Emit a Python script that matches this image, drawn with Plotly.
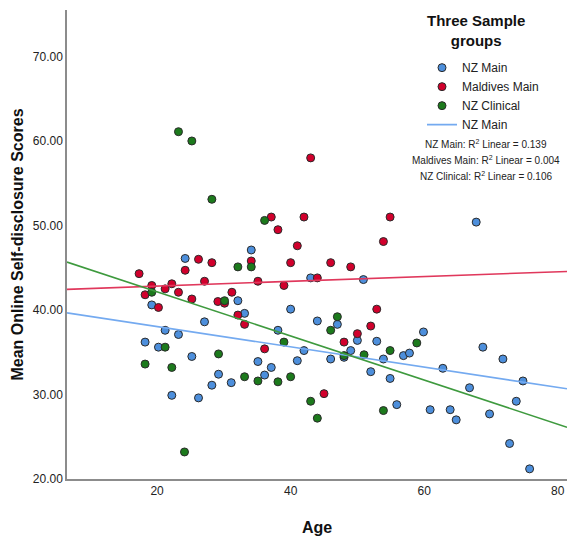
import numpy as np
import plotly.graph_objects as go

# ---- data ----
nz_main_age = [24.2, 32.1, 19.2, 27.1, 21.2, 23.2, 18.2, 20.2, 25.2, 29.2, 28.2, 31.1, 22.2, 26.2,
               34.1, 43.0, 50.9, 33.1, 40.0, 47.0, 44.0, 38.1, 50.0, 52.9, 42.0, 49.0, 48.0, 56.9,
               57.8, 46.0, 53.9, 41.0, 35.1, 37.1, 36.1, 52.0, 54.9, 55.9, 67.8, 59.9, 68.8, 71.8,
               62.8, 74.8, 66.8, 73.8, 60.9, 63.9, 64.8, 69.8, 72.8, 75.8]
nz_main_score = [46.1, 41.1, 40.6, 38.6, 37.6, 37.1, 36.2, 35.6, 34.5, 32.4, 31.1, 31.4, 29.9, 29.6,
                 47.1, 43.8, 43.6, 39.6, 40.1, 38.3, 38.7, 37.6, 36.4, 36.3, 35.2, 35.2, 34.4, 34.6,
                 34.9, 34.2, 34.2, 34.0, 33.9, 33.2, 32.3, 32.7, 31.9, 28.8, 50.4, 37.4, 35.6, 34.2,
                 33.1, 31.6, 30.8, 29.2, 28.2, 28.2, 27.0, 27.7, 24.2, 21.2]

maldives_age = [43.0, 37.1, 42.0, 54.9, 38.1, 53.9, 41.0, 34.1, 40.0, 46.0, 49.0, 44.0, 35.1, 39.0,
                26.2, 28.2, 24.2, 17.3, 27.1, 22.2, 19.2, 21.2, 23.2, 18.2, 31.2, 25.2, 29.1, 30.1,
                32.1, 20.2, 33.1, 52.9, 52.0, 50.0, 48.0, 36.1, 45.0]
maldives_score = [58.0, 51.0, 51.0, 51.0, 49.5, 48.1, 47.6, 45.8, 45.6, 45.6, 45.1, 43.8, 43.4, 42.9,
                  46.0, 45.6, 44.7, 44.3, 43.4, 43.1, 42.9, 42.5, 42.1, 41.8, 42.1, 41.3, 41.0, 40.8,
                  39.4, 40.3, 38.3, 40.1, 38.1, 37.2, 36.2, 35.4, 30.1]

nz_clin_age = [23.2, 25.2, 28.2, 36.1, 32.1, 34.1, 19.2, 30.1, 21.2, 29.2, 18.2, 22.2, 24.1, 47.0,
               46.0, 39.0, 48.0, 51.0, 54.9, 58.9, 33.1, 35.1, 38.1, 40.0, 43.0, 44.0, 53.9]
nz_clin_score = [61.1, 60.0, 53.1, 50.6, 45.1, 45.1, 42.1, 41.1, 35.6, 34.8, 33.6, 33.2, 23.2, 39.2,
                 37.6, 36.2, 34.6, 34.7, 35.2, 36.1, 32.1, 31.6, 31.5, 32.1, 29.2, 27.2, 28.1]

group_names = ["NZ Main", "Maldives Main", "NZ Clinical"]
fit_intercepts = [40.44, 42.26, 47.37]
fit_slopes = [-0.120, 0.0283, -0.261]
r2_values = [0.139, 0.004, 0.106]

x_range = [6.5, 81.4]
y_range = [20, 75.5]
x_ticks = [20, 40, 60, 80]
y_ticks = [20, 30, 40, 50, 60, 70]

marker_colors = ["#4d8fdc", "#d1002c", "#1c7a1c"]
line_colors = ["#74aaf0", "#e0385c", "#3e9a3e"]

fig = go.Figure()
series = [(nz_main_age, nz_main_score), (maldives_age, maldives_score), (nz_clin_age, nz_clin_score)]
for i, (ax, sc) in enumerate(series):
    fig.add_trace(go.Scatter(
        x=ax, y=sc, mode="markers", name=group_names[i],
        marker=dict(size=8, color=marker_colors[i], line=dict(color="#2a2a2a", width=1)),
        showlegend=True))

xs = np.array(x_range)
for i in range(3):
    fig.add_trace(go.Scatter(
        x=xs, y=fit_intercepts[i] + fit_slopes[i] * xs, mode="lines",
        name=group_names[i], line=dict(color=line_colors[i], width=1.6),
        showlegend=(i == 0)))

font_family = "Liberation Sans, Arial, sans-serif"

annotations = [dict(
    text="<b>Three Sample<br>groups</b>", xref="paper", yref="paper",
    x=0.818, y=0.957, xanchor="center", yanchor="middle", showarrow=False,
    font=dict(family=font_family, size=15, color="#111"))]
r2_y = [0.714, 0.680, 0.646]
for i in range(3):
    annotations.append(dict(
        text=f"{group_names[i]}: R<sup>2</sup> Linear = {r2_values[i]:.3f}",
        xref="paper", yref="paper", x=0.838, y=r2_y[i], xanchor="center", yanchor="middle",
        showarrow=False, font=dict(family=font_family, size=10, color="#222")))

fig.update_layout(
    width=567, height=539,
    margin=dict(l=67, r=0, t=10, b=60),
    plot_bgcolor="white", paper_bgcolor="white",
    font=dict(family=font_family, color="#222"),
    showlegend=True,
    legend=dict(x=0.71, y=0.908, xanchor="left", yanchor="top",
                font=dict(family=font_family, size=12, color="#222"),
                bgcolor="rgba(0,0,0,0)", tracegroupgap=0),
    annotations=annotations,
    xaxis=dict(range=x_range, tickvals=x_ticks, ticks="", showgrid=False, zeroline=False,
               showline=True, linecolor="#8c8c8c", linewidth=1.5,
               tickfont=dict(size=12, color="#222"),
               title=dict(text="<b>Age</b>", font=dict(size=16, color="#111"), standoff=25)),
    yaxis=dict(range=y_range, tickvals=y_ticks, tickformat=".2f", ticks="", showgrid=False,
               zeroline=False, showline=True, linecolor="#8c8c8c", linewidth=1.5,
               tickfont=dict(size=12, color="#222"),
               title=dict(text="<b>Mean Online Self-disclosure Scores</b>",
                          font=dict(size=16, color="#111"), standoff=5)),
)

fig.write_html("out.html")
